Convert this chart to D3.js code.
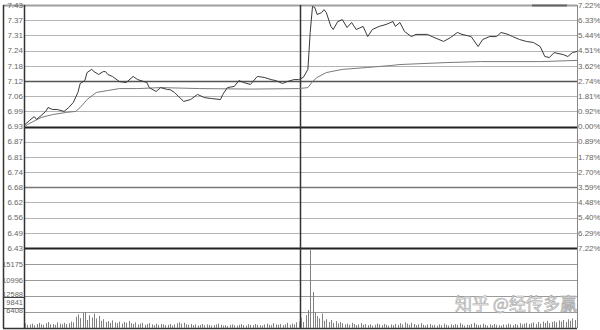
<!DOCTYPE html>
<html>
<head>
<meta charset="utf-8">
<script src="https://cdn.jsdelivr.net/npm/d3@7"></script>
<style>
  html, body { margin: 0; padding: 0; background: #fff; }
  svg { display: block; font-family: "Liberation Sans", Arial, sans-serif; }
</style>
</head>
<body>
<svg id="chart"></svg>
<script>
// price axis labels, top to bottom
const priceLabels = ["7.43", "7.37", "7.31", "7.24", "7.18", "7.12", "7.06", "6.99", "6.93",
    "6.87", "6.81", "6.74", "6.68", "6.62", "6.56", "6.49", "6.43"];
const pctLabels = ["7.22%", "6.33%", "5.44%", "4.51%", "3.62%", "2.74%", "1.81%", "0.92%", "0.00%",
    "0.89%", "1.78%", "2.70%", "3.59%", "4.48%", "5.40%", "6.29%", "7.22%"];

// intraday price (minute, price)
const priceTimes = [0, 2, 4, 5, 7, 9, 10, 12, 14, 17, 19, 21, 23, 24, 26, 27, 29, 30, 32, 34, 35, 36, 38,
    41, 44, 47, 49, 53, 54, 57, 59, 62, 63, 65, 69, 72, 75, 78, 81, 85, 86, 88, 91, 93, 95, 98, 101,
    104, 107, 109, 112, 114, 117, 119, 121, 123, 124, 125, 126, 127, 129, 130, 131, 133, 134, 136,
    138, 140, 142, 144, 147, 149, 151, 154, 157, 160, 161, 163, 165, 168, 170, 175, 177, 180, 182,
    185, 188, 190, 194, 197, 199, 202, 205, 207, 210, 212, 215, 218, 221, 224, 226, 228, 230, 234,
    236, 238, 240];
const prices = [6.938, 6.955, 6.971, 6.959, 6.975, 6.992, 7.008, 7.000, 7.000, 6.992, 7.008, 7.029,
    7.070, 7.107, 7.119, 7.152, 7.165, 7.156, 7.144, 7.156, 7.156, 7.144, 7.136,
    7.115, 7.111, 7.136, 7.123, 7.111, 7.090, 7.074, 7.090, 7.082, 7.082, 7.070, 7.033, 7.041, 7.062,
    7.049, 7.045, 7.041, 7.062, 7.090, 7.095, 7.119, 7.111, 7.103, 7.136,
    7.132, 7.123, 7.119, 7.107, 7.115, 7.123, 7.123, 7.132, 7.165, 7.317, 7.424, 7.420, 7.391, 7.399,
    7.411, 7.399, 7.342, 7.329, 7.362, 7.370, 7.337, 7.358, 7.329, 7.342, 7.300, 7.329, 7.342, 7.350,
    7.362, 7.342, 7.358, 7.321, 7.300, 7.309, 7.309, 7.300, 7.288, 7.280, 7.296, 7.317, 7.309, 7.300,
    7.259, 7.288, 7.300, 7.300, 7.317, 7.309, 7.300, 7.288, 7.280, 7.276, 7.259, 7.218, 7.214, 7.234,
    7.226, 7.218, 7.234, 7.239];

// average price line (minute, price)
const avgTimes = [0, 1, 7, 12, 18, 22, 24, 27, 31, 36, 41, 49, 59, 76, 98, 119, 123, 125, 127, 131,
    138, 149, 159, 163, 183, 198, 224, 240];
const avgPrices = [6.930, 6.938, 6.967, 6.979, 6.988, 6.992, 7.008, 7.041, 7.070, 7.078, 7.086, 7.086,
    7.090, 7.086, 7.084, 7.086, 7.090, 7.115, 7.132, 7.152, 7.165, 7.173, 7.181, 7.185, 7.193, 7.197,
    7.197, 7.202];

// volume per minute, 0..240
const volumes = [
    1200, 800, 900, 1100, 700, 1000, 1300, 900, 800, 1200, 1500, 900, 1000, 800, 1400, 1100, 900, 1300, 1000, 1200,
    1600, 1400, 2800, 3400, 2500, 3800, 4000, 2000, 3200, 2600, 3600, 2400, 3000, 1800, 2200, 1500, 1700, 1300, 1900, 1400,
    1200, 1600, 1100, 1500, 1300, 1800, 1200, 1000, 1400, 900, 1100, 1300, 800, 1000, 1200, 900, 700, 1100, 800, 1000,
    900, 700, 800, 1000, 600, 900, 1200, 1400, 1100, 1300, 900, 800, 1000, 700, 900, 600, 800, 1000, 700, 900,
    800, 600, 700, 900, 1100, 800, 600, 700, 500, 800, 900, 700, 600, 800, 1000, 700, 600, 900, 800, 700,
    1000, 800, 700, 600, 900, 1100, 800, 700, 1200, 900, 800, 1000, 700, 900, 1300, 800, 1100, 900, 1400, 1600,
    2600, 1500, 3200, 4500, 19500, 9000, 4000, 3000, 2400, 3600, 1800, 2200, 1500, 2000, 1300, 1700, 1100, 1500, 1200, 900,
    1100, 800, 1300, 1000, 700, 900, 1200, 800, 1000, 700, 900, 600, 800, 1100, 900, 700, 1000, 800, 600, 900,
    700, 1000, 800, 1200, 900, 1400, 1100, 800, 1300, 1000, 700, 900, 1200, 800, 600, 900, 1000, 700, 800, 600,
    900, 700, 1100, 800, 600, 900, 700, 1000, 800, 1200, 900, 600, 800, 700, 1000, 1300, 900, 700, 800, 1100,
    800, 600, 900, 700, 1000, 800, 700, 600, 900, 800, 1100, 900, 700, 1000, 800, 1200, 900, 1100, 1300, 1000,
    1200, 1400, 1000, 1500, 1100, 1600, 1300, 1800, 1200, 1500, 1700, 1400, 1900, 1600, 2000, 1500, 2200, 1800, 2400, 2000, 2600
];

// volume axis
const volGrid = [4000, 8000, 12000, 16000];
const volLabelVals = [16000, 11800, 8300, 6300, 4300];
const volLabels = ["15175", "10996", "12588", "9841", "6408"];

const watermark = "知乎 @经传多赢";

function drawChart() {
    const W = 600, H = 330;
    const left = 25, right = 577, top = 5, mid = 248, bottom = 328;

    const svg = d3.select("#chart").attr("width", W).attr("height", H);

    const x = d3.scaleLinear().domain([0, 240]).range([left, right]);
    const y = d3.scaleLinear().domain([6.43, 7.43]).range([mid, top]);
    const yv = d3.scaleLinear().domain([0, 20000]).range([bottom, mid]);

    const tickVals = priceLabels.map((d, i) => 7.43 - i * 0.0625);

    // price grid
    const grid = svg.append("g");
    tickVals.forEach((v, i) => {
        let stroke = "#b4b4b4", sw = 1;
        if (i === 5) { stroke = "#555"; sw = 1.5; }
        if (i === 12) { stroke = "#777"; sw = 1.5; }
        if (i === 8 || i === 16) { stroke = "#222"; sw = 2; }
        if (i === 0) { stroke = "#a0a0a0"; sw = 2; }
        grid.append("line")
            .attr("x1", i === 0 ? 3 : left).attr("x2", right)
            .attr("y1", Math.round(y(v)) + 0.5).attr("y2", Math.round(y(v)) + 0.5)
            .attr("stroke", stroke).attr("stroke-width", sw);
    });
    // darker segment on top edge
    grid.append("line")
        .attr("x1", 532).attr("x2", 567)
        .attr("y1", y(7.43) + 0.5).attr("y2", y(7.43) + 0.5)
        .attr("stroke", "#666").attr("stroke-width", 2);

    // volume grid
    volGrid.forEach(v => {
        grid.append("line")
            .attr("x1", left).attr("x2", right)
            .attr("y1", Math.round(yv(v)) + 0.5).attr("y2", Math.round(yv(v)) + 0.5)
            .attr("stroke", "#9a9a9a").attr("stroke-width", 1);
    });
    grid.append("line").attr("x1", 3).attr("x2", left)
        .attr("y1", 297.5).attr("y2", 297.5).attr("stroke", "#444");
    grid.append("line").attr("x1", 3).attr("x2", left)
        .attr("y1", 308.5).attr("y2", 308.5).attr("stroke", "#777");

    // frame
    svg.append("line").attr("x1", 3.5).attr("x2", 3.5).attr("y1", top).attr("y2", bottom)
        .attr("stroke", "#333").attr("stroke-width", 1.5);
    svg.append("line").attr("x1", left - 0.5).attr("x2", left - 0.5).attr("y1", top).attr("y2", bottom)
        .attr("stroke", "#333").attr("stroke-width", 1.5);
    svg.append("line").attr("x1", right + 0.5).attr("x2", right + 0.5).attr("y1", top).attr("y2", bottom)
        .attr("stroke", "#888").attr("stroke-width", 1);
    svg.append("line").attr("x1", 3).attr("x2", right).attr("y1", bottom + 0.5).attr("y2", bottom + 0.5)
        .attr("stroke", "#333").attr("stroke-width", 1.5);
    svg.append("line").attr("x1", Math.round(x(120)) - 0.5).attr("x2", Math.round(x(120)) - 0.5)
        .attr("y1", top).attr("y2", bottom)
        .attr("stroke", "#333").attr("stroke-width", 1.5);

    // left labels
    svg.append("g").selectAll("text")
        .data(priceLabels)
        .enter().append("text")
        .attr("x", left - 2)
        .attr("y", (d, i) => y(tickVals[i]))
        .attr("dy", "0.35em")
        .attr("text-anchor", "end")
        .style("font-size", "8px")
        .style("fill", "#666")
        .text(d => d);

    // right labels
    svg.append("g").selectAll("text")
        .data(pctLabels)
        .enter().append("text")
        .attr("x", right + 1)
        .attr("y", (d, i) => y(tickVals[i]))
        .attr("dy", "0.35em")
        .style("font-size", "8px")
        .style("fill", "#666")
        .text(d => d);

    // volume labels
    svg.append("g").selectAll("text")
        .data(volLabels)
        .enter().append("text")
        .attr("x", left - 2)
        .attr("y", (d, i) => yv(volLabelVals[i]))
        .attr("dy", "0.35em")
        .attr("text-anchor", "end")
        .style("font-size", "7.5px")
        .style("fill", "#666")
        .text(d => d);

    // volume bars
    svg.append("g").selectAll("line")
        .data(volumes)
        .enter().append("line")
        .attr("x1", (d, i) => Math.round(x(i)) + 0.5)
        .attr("x2", (d, i) => Math.round(x(i)) + 0.5)
        .attr("y1", yv(0))
        .attr("y2", d => yv(d))
        .attr("stroke", "#808080")
        .attr("stroke-width", 1);

    // average line
    const line = d3.line().x(d => x(d[0])).y(d => y(d[1]));
    svg.append("path")
        .datum(avgTimes.map((t, i) => [t, avgPrices[i]]))
        .attr("d", line)
        .attr("fill", "none")
        .attr("stroke", "#7a7a7a")
        .attr("stroke-width", 1);

    // price line
    svg.append("path")
        .datum(priceTimes.map((t, i) => [t, prices[i]]))
        .attr("d", line)
        .attr("fill", "none")
        .attr("stroke", "#3a3a3a")
        .attr("stroke-width", 1);

    // watermark
    svg.append("text")
        .attr("x", 455)
        .attr("y", 310)
        .style("font-family", "'Noto Sans CJK SC', sans-serif")
        .style("font-size", "17px")
        .style("fill", "#ececec")
        .style("stroke", "#a8a8a8")
        .style("stroke-width", "0.6px")
        .text(watermark);
}

drawChart();
</script>
</body>
</html>
